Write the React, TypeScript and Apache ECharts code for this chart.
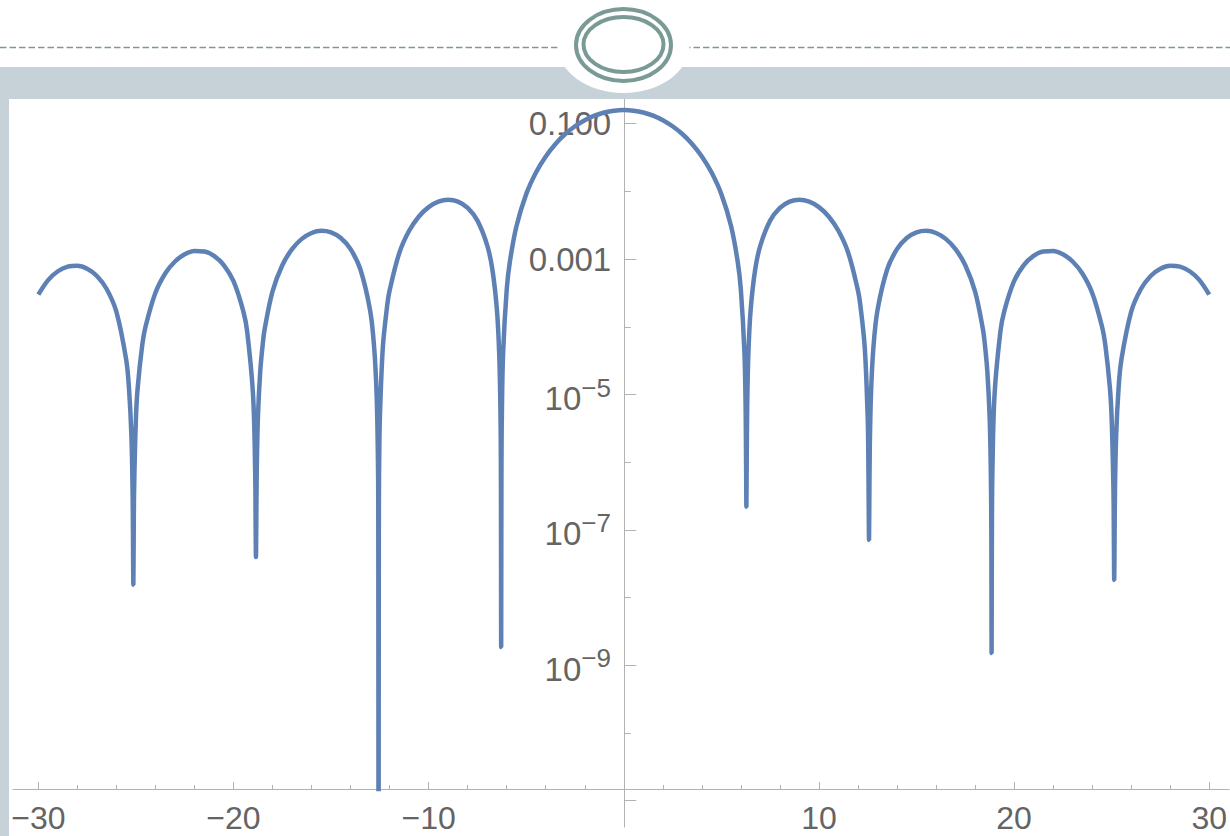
import React, { useEffect, useRef } from "react";
import * as echarts from "echarts";

// Sample positions (x) and plotted values (y, linear; the axis is logarithmic)
const xValues: number[] = [
  -30, -29.5, -29, -28.5, -28, -27.5, -27, -26.5, -26, -25.5,
  -25.3527, -25.2327, -25.1727, -25.1477, -25.1327, -25.1177, -25.0927, -25, -24.9127, -24.6827,
  -24.5, -24, -23.5, -23, -22.5, -22, -21.5, -21, -20.5, -20,
  -19.5, -19.2996, -19, -18.8896, -18.8646, -18.8496, -18.8346, -18.8096, -18.7496, -18.6296,
  -18.5, -18.3996, -18, -17.5, -17, -16.5, -16, -15.5, -15, -14.5,
  -14, -13.5, -13, -12.7864, -12.6664, -12.6064, -12.5814, -12.5664, -12.5514, -12.5264,
  -12.5, -12.3464, -12.1164, -12, -11.5, -11, -10.5, -10, -9.5, -9,
  -8.5, -8, -7.5, -7, -6.7332, -6.5, -6.3832, -6.3232, -6.2982, -6.2832,
  -6.2682, -6.2432, -6.1832, -6, -5.8332, -5.5, -5, -4.5, -4, -3.5,
  -3, -2.5, -2, -1.5, -1, -0.5, 0,
  0.5, 1, 1.5, 2, 2.5, 3, 3.5, 4, 4.5, 5,
  5.5, 5.8332, 6, 6.1832, 6.2432, 6.2682, 6.2832, 6.2982, 6.3232, 6.3832,
  6.5, 6.7332, 7, 7.5, 8, 8.5, 9, 9.5, 10, 10.5,
  11, 11.5, 12, 12.1164, 12.3464, 12.5, 12.5264, 12.5514, 12.5664, 12.5814,
  12.6064, 12.6664, 12.7864, 13, 13.5, 14, 14.5, 15, 15.5, 16,
  16.5, 17, 17.5, 18, 18.3996, 18.5, 18.6296, 18.7496, 18.8096, 18.8346,
  18.8496, 18.8646, 18.8896, 19, 19.2996, 19.5, 20, 20.5, 21, 21.5,
  22, 22.5, 23, 23.5, 24, 24.5, 24.6827, 24.9127, 25, 25.0927,
  25.1177, 25.1327, 25.1477, 25.1727, 25.2327, 25.3527, 25.5, 26, 26.5, 27,
  27.5, 28, 28.5, 29, 29.5, 30,
];

const yValues: number[] = [
  2.9912e-4, 4.895e-4, 6.616e-4, 7.738e-4, 7.968e-4, 7.218e-4, 5.642e-4, 3.6165e-4, 1.6628e-4, 3.264e-5,
  1.1936e-5, 2.4976e-6, 4.018e-7, 5.662e-8, 1.55e-8, 5.676e-8, 4.044e-7, 4.48e-6, 1.2361e-5, 5.201e-5,
  1.0266e-4, 3.1821e-4, 6.121e-4, 9.223e-4, 1.1779e-3, 1.3153e-3, 1.2958e-3, 1.1171e-3, 8.177e-4, 4.7103e-4,
  1.7093e-4, 8.507e-5, 9.959e-6, 7.137e-7, 1.0063e-7, 3.98e-8, 1.0095e-7, 7.197e-7, 4.523e-6, 2.2105e-5,
  5.624e-5, 9.36e-5, 3.337e-4, 8.113e-4, 1.4045e-3, 1.9904e-3, 2.4342e-3, 2.6213e-3, 2.4894e-3, 2.0513e-3,
  1.402e-3, 7.075e-4, 1.7432e-4, 4.693e-5, 9.912e-6, 1.6023e-6, 2.262e-7, 1e-14, 2.273e-7, 1.6228e-6,
  4.486e-6, 5.033e-5, 2.1585e-4, 3.4517e-4, 1.2436e-3, 2.619e-3, 4.2602e-3, 5.854e-3, 7.044e-3, 7.5103e-3,
  7.0579e-3, 5.6972e-3, 3.6973e-3, 1.5987e-3, 6.99e-4, 1.764e-4, 3.903e-5, 6.369e-6, 9.028e-7, 1.86e-9,
  9.114e-7, 6.533e-6, 4.159e-5, 3.522e-4, 9.313e-4, 3.0656e-3, 9.121e-3, 1.9033e-2, 3.29e-2, 5.032e-2,
  7.038e-2, 9.173e-2, 0.11269, 0.13146, 0.14633, 0.15587, 0.15915,
  0.15587, 0.14633, 0.13146, 0.11269, 9.173e-2, 7.038e-2, 5.032e-2, 3.29e-2, 1.9033e-2, 9.121e-3,
  3.0656e-3, 9.313e-4, 3.522e-4, 4.159e-5, 6.533e-6, 9.114e-7, 2.19e-7, 9.028e-7, 6.369e-6, 3.903e-5,
  1.764e-4, 6.99e-4, 1.5987e-3, 3.6973e-3, 5.6972e-3, 7.0579e-3, 7.5103e-3, 7.044e-3, 5.854e-3, 4.2602e-3,
  2.619e-3, 1.2436e-3, 3.4517e-4, 2.1585e-4, 5.033e-5, 4.486e-6, 1.6228e-6, 2.273e-7, 7.1e-8, 2.262e-7,
  1.6023e-6, 9.912e-6, 4.693e-5, 1.7432e-4, 7.075e-4, 1.402e-3, 2.0513e-3, 2.4894e-3, 2.6213e-3, 2.4342e-3,
  1.9904e-3, 1.4045e-3, 8.113e-4, 3.337e-4, 9.36e-5, 5.624e-5, 2.2105e-5, 4.523e-6, 7.197e-7, 1.0095e-7,
  1.52e-9, 1.0063e-7, 7.137e-7, 9.959e-6, 8.507e-5, 1.7093e-4, 4.7103e-4, 8.177e-4, 1.1171e-3, 1.2958e-3,
  1.3153e-3, 1.1779e-3, 9.223e-4, 6.121e-4, 3.1821e-4, 1.0266e-4, 5.201e-5, 1.2361e-5, 4.48e-6, 4.044e-7,
  5.676e-8, 1.82e-8, 5.662e-8, 4.018e-7, 2.4976e-6, 1.1936e-5, 3.264e-5, 1.6628e-4, 3.6165e-4, 5.642e-4,
  7.218e-4, 7.968e-4, 7.738e-4, 6.616e-4, 4.895e-4, 2.9912e-4,
];

// Axis ticks and labels
const xLabelValues = [-30, -20, -10, 10, 20, 30];
const xTickLabels = ["\u221230", "\u221220", "\u221210", "10", "20", "30"];
const xMajorTicks = [-30, -20, -10, 0, 10, 20, 30];
const xMinorTicks = [-28, -26, -24, -22, -18, -16, -14, -12, -8, -6, -4, -2, 2, 4, 6, 8, 12, 14, 16, 18, 22, 24, 26, 28];

const yLabelExponents = [-1, -3, -5, -7, -9];
const yTickBase = ["0.100", "0.001", "10", "10", "10"];
const yTickSup = ["", "", "\u22125", "\u22127", "\u22129"];
const yMajorTicks = [-1, -3, -5, -7, -9, -11];
const yMinorTicks = [-2, -4, -6, -8, -10];

// Plot ranges (x linear, y in decades)
const X_MIN = -31.3;
const X_MAX = 31.02;
const Y_MAX = -0.635;
const Y_MIN_PLOT = -10.827;
const Y_MIN_AXIS = -11.388;

const FONT = "'Liberation Sans', Arial, Helvetica, sans-serif";
const TEXT = "#646464";
const AXIS = "#b2b2b2";
const CURVE = "#5e81b5";
const DECOR = "#7a9a96";
const BAR = "#c6d2d8";

export default function App() {
  const ref = useRef<HTMLDivElement>(null);

  useEffect(() => {
    if (!ref.current) return;
    const chart = echarts.init(ref.current, null, { renderer: "svg" });

    const W = 1230;
    const gridLeft = 13;
    const gridRight = 0;
    const plotW = W - gridLeft - gridRight;
    const zeroX = gridLeft + ((0 - X_MIN) / (X_MAX - X_MIN)) * plotW;

    const data = xValues.map((x, i) => [x, Math.log10(yValues[i])]);

    const option: any = {
      animation: false,
      backgroundColor: "#ffffff",
      textStyle: { fontFamily: FONT },
      grid: [
        { left: gridLeft, right: gridRight, top: 99, bottom: 47, containLabel: false },
        { left: zeroX, right: 0, top: 99, bottom: 9, containLabel: false },
      ],
      xAxis: [
        {
          gridIndex: 0,
          type: "value",
          min: X_MIN,
          max: X_MAX,
          position: "bottom",
          axisLine: { show: true, onZero: false, lineStyle: { color: AXIS, width: 1 } },
          axisTick: { show: true, inside: true, length: 7, customValues: xMajorTicks, lineStyle: { color: AXIS, width: 1 } },
          axisLabel: {
            show: true,
            customValues: xLabelValues,
            formatter: (v: number) => {
              const i = xLabelValues.findIndex((t) => Math.abs(t - v) < 1e-6);
              return i >= 0 ? xTickLabels[i] : "";
            },
            margin: 13,
            fontSize: 32,
            lineHeight: 32,
            color: TEXT,
            fontFamily: FONT,
          },
          splitLine: { show: false },
        },
        {
          gridIndex: 0,
          type: "value",
          min: X_MIN,
          max: X_MAX,
          position: "bottom",
          axisLine: { show: false, onZero: false },
          axisTick: { show: true, inside: true, length: 4, customValues: xMinorTicks, lineStyle: { color: AXIS, width: 1 } },
          axisLabel: { show: false },
          splitLine: { show: false },
        },
        {
          gridIndex: 1,
          type: "value",
          min: 0,
          max: X_MAX,
          show: false,
          axisLine: { onZero: false },
          splitLine: { show: false },
        },
      ],
      yAxis: [
        {
          gridIndex: 0,
          type: "value",
          min: Y_MIN_PLOT,
          max: Y_MAX,
          show: false,
          axisLine: { onZero: false },
          splitLine: { show: false },
        },
        {
          gridIndex: 1,
          type: "value",
          min: Y_MIN_AXIS,
          max: Y_MAX,
          position: "left",
          axisLine: { show: true, onZero: false, lineStyle: { color: AXIS, width: 1 } },
          axisTick: { show: true, inside: true, length: 12, customValues: yMajorTicks, lineStyle: { color: AXIS, width: 1 } },
          axisLabel: {
            show: true,
            customValues: yLabelExponents,
            margin: 13,
            fontSize: 33,
            color: TEXT,
            fontFamily: FONT,
            formatter: (v: number) => {
              const i = yLabelExponents.findIndex((t) => Math.abs(t - v) < 1e-6);
              if (i < 0) return "";
              if (!yTickSup[i]) return yTickBase[i];
              return "{b|" + yTickBase[i] + "}{s|" + yTickSup[i] + "}{sp| }";
            },
            rich: {
              b: { fontSize: 33, verticalAlign: "bottom", color: TEXT, fontFamily: FONT },
              s: { fontSize: 26, height: 27, verticalAlign: "top", color: TEXT, fontFamily: FONT },
              sp: { fontSize: 1, lineHeight: 41, verticalAlign: "middle", color: TEXT, fontFamily: FONT },
            },
          },
          splitLine: { show: false },
        },
        {
          gridIndex: 1,
          type: "value",
          min: Y_MIN_AXIS,
          max: Y_MAX,
          position: "left",
          axisLine: { show: false, onZero: false },
          axisTick: { show: true, inside: true, length: 6.5, customValues: yMinorTicks, lineStyle: { color: AXIS, width: 1 } },
          axisLabel: { show: false },
          splitLine: { show: false },
        },
      ],
      series: [
        {
          type: "line",
          xAxisIndex: 0,
          yAxisIndex: 0,
          data,
          symbol: "none",
          showSymbol: false,
          clip: true,
          smooth: 0.35,
          lineStyle: { color: CURVE, width: 4.5, join: "bevel", cap: "butt" },
          z: 5,
        },
      ],
      graphic: {
        elements: [
          { type: "rect", z: 100, shape: { x: 0, y: 67, width: W, height: 32 }, style: { fill: BAR } },
          { type: "rect", z: 100, shape: { x: 0, y: 98, width: 9, height: 740 }, style: { fill: BAR } },
          {
            type: "line",
            z: 101,
            shape: { x1: 0, y1: 47.5, x2: W, y2: 47.5 },
            style: { stroke: DECOR, lineWidth: 1.6, lineDash: [6.5, 3] },
          },
          { type: "ellipse", z: 102, shape: { cx: 623.5, cy: 45, rx: 66, ry: 48 }, style: { fill: "#ffffff" } },
          {
            type: "ellipse",
            z: 103,
            shape: { cx: 623.5, cy: 45, rx: 47.5, ry: 36 },
            style: { fill: "none", stroke: DECOR, lineWidth: 4 },
          },
          {
            type: "ellipse",
            z: 103,
            shape: { cx: 623.5, cy: 44.5, rx: 40, ry: 27.5 },
            style: { fill: "none", stroke: DECOR, lineWidth: 4 },
          },
        ],
      },
    };

    chart.setOption(option);
    return () => chart.dispose();
  }, []);

  return (
    <div
      ref={ref}
      style={{ position: "fixed", left: 0, top: 0, width: 1230, height: 836, background: "#ffffff" }}
    />
  );
}
